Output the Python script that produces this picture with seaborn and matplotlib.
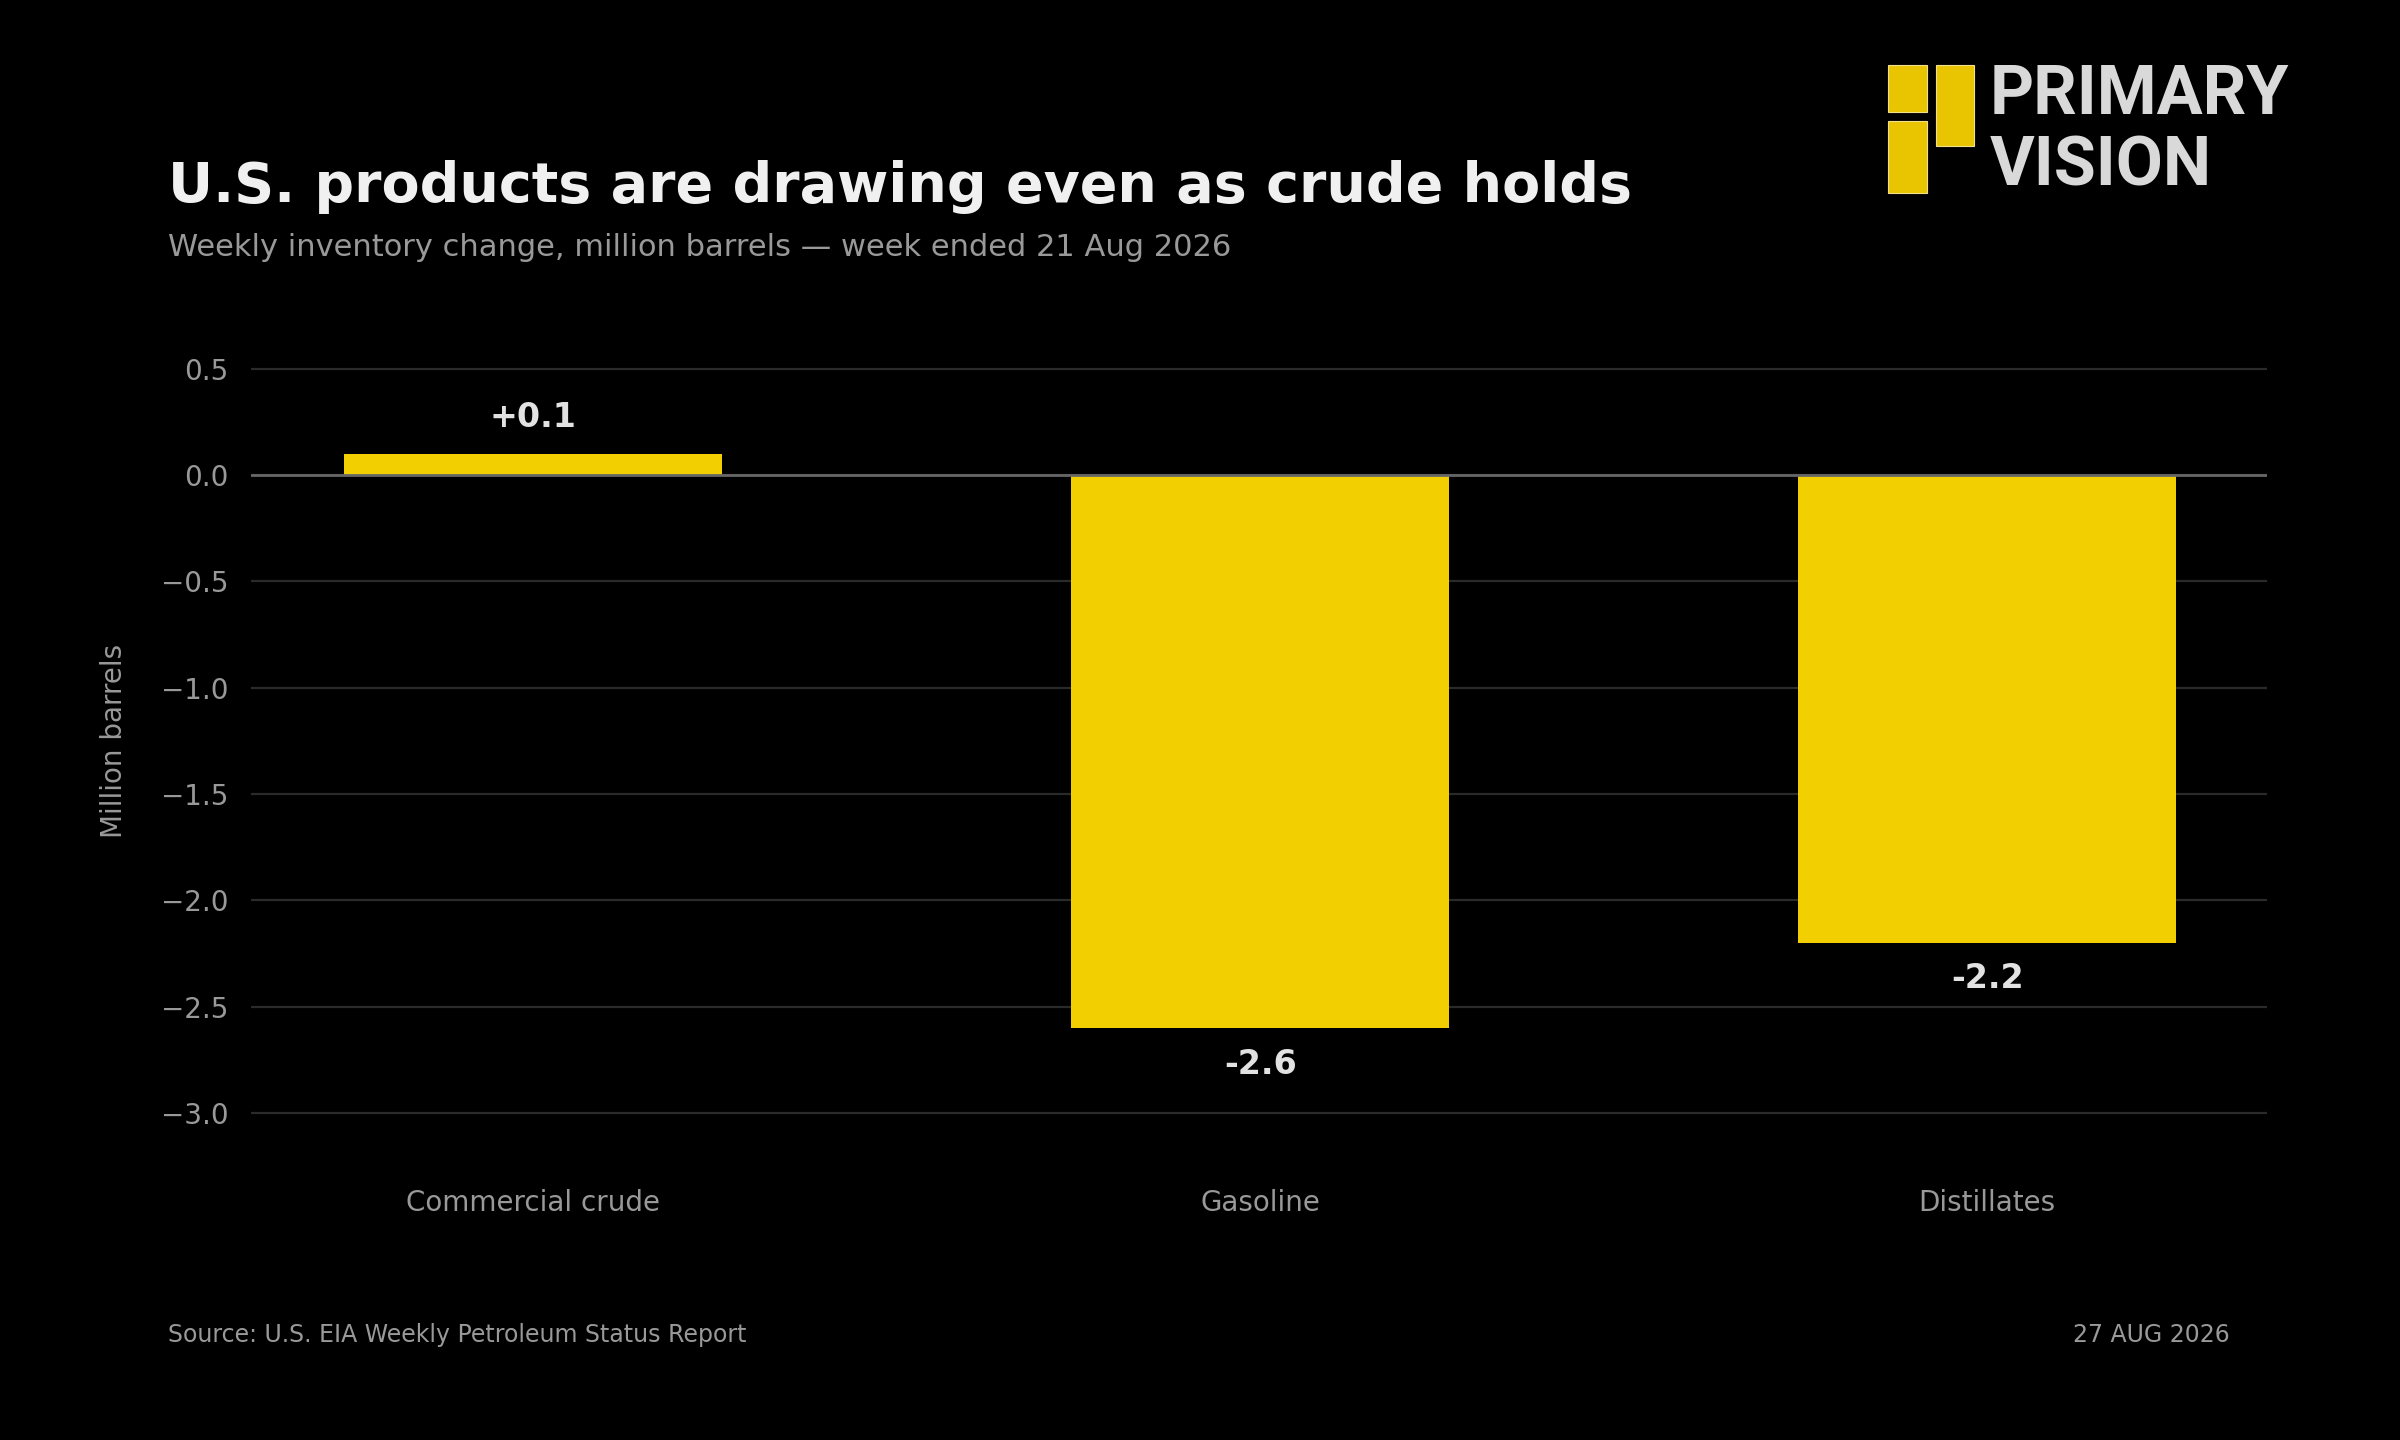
import matplotlib
matplotlib.use("Agg")
import matplotlib.pyplot as plt
from matplotlib.patches import Rectangle
import seaborn as sns
import pandas as pd

categories = ["Commercial crude", "Gasoline", "Distillates"]
changes = [0.1, -2.6, -2.2]
value_labels = ["+0.1", "-2.6", "-2.2"]
yticks = [0.5, 0.0, -0.5, -1.0, -1.5, -2.0, -2.5, -3.0]

title = "U.S. products are drawing even as crude holds"
subtitle = "Weekly inventory change, million barrels \u2014 week ended 21 Aug 2026"
source = "Source: U.S. EIA Weekly Petroleum Status Report"
date_text = "27 AUG 2026"

BG = "#000000"
BAR = "#F2CF00"
GRID = "#2a2a2a"
TICK = "#999999"

sns.set_theme(style="dark")
plt.rcParams["font.family"] = ["DejaVu Sans"]

fig = plt.figure(figsize=(12, 7.2), dpi=200, facecolor=BG)
ax = fig.add_axes([0.1046, 0.190, 0.84, 0.591])
ax.set_facecolor(BG)

df = pd.DataFrame({"category": categories, "change": changes})
sns.barplot(data=df, x="category", y="change", color=BAR, saturation=1,
            width=0.52, linewidth=0, edgecolor="none", ax=ax, zorder=3)

ax.set_xlim(-0.388, 2.385)
ax.set_ylim(-3.25, 0.75)
ax.set_yticks(yticks)
ax.yaxis.grid(True, color=GRID, linewidth=0.8, zorder=0)
ax.xaxis.grid(False)
ax.axhline(0, color="#666666", linewidth=1.0, zorder=4)
for s in ax.spines.values():
    s.set_visible(False)
ax.tick_params(axis="both", length=0, colors=TICK, labelsize=10)
ax.tick_params(axis="y", pad=8)
ax.tick_params(axis="x", pad=8)
ax.set_xlabel("")
ax.set_ylabel("Million barrels", color=TICK, fontsize=10, labelpad=12)

ax.bar_label(ax.containers[0], labels=value_labels, padding=7,
             color="#e2e2e2", fontsize=12, fontweight="bold")

fig.text(0.0700, 0.860, title, color="#f0f0f0", fontsize=20, fontweight="bold",
         ha="left", va="baseline")
fig.text(0.0700, 0.822, subtitle, color=TICK, fontsize=11, ha="left", va="baseline")
fig.text(0.0700, 0.068, source, color=TICK, fontsize=8.5, ha="left", va="baseline")
fig.text(0.929, 0.068, date_text, color=TICK, fontsize=8.5, ha="right", va="baseline")

# logo
W, H = 2400, 1440
logo_col = "#E8C500"
for (x0, y0, x1, y1) in [(1888, 65, 1927, 112), (1936, 65, 1974, 146), (1888, 121, 1927, 193)]:
    fig.add_artist(Rectangle((x0 / W, 1 - y1 / H), (x1 - x0) / W, (y1 - y0) / H,
                             transform=fig.transFigure, facecolor=logo_col,
                             edgecolor="#f3e08a", linewidth=0.4))
fig.text(1990 / W, 1 - 114 / H, "PRIMARY", family=["Roboto", "DejaVu Sans"],
         fontweight="bold", fontsize=24.6, color="#d9d9d9", ha="left", va="baseline")
fig.text(1990 / W, 1 - 185 / H, "VISION", family=["Roboto", "DejaVu Sans"],
         fontweight="bold", fontsize=24.6, color="#d9d9d9", ha="left", va="baseline")

fig.savefig("out.png", dpi=200, facecolor=BG)
